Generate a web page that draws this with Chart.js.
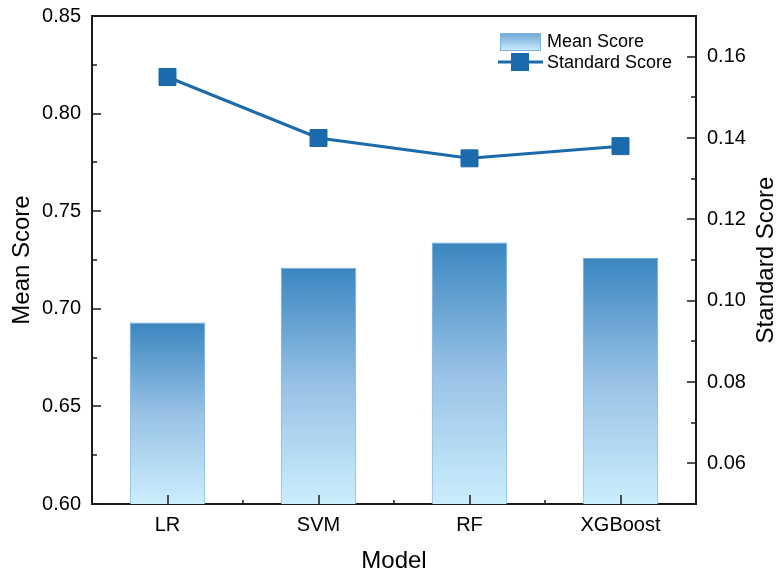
<!DOCTYPE html>
<html lang="en">
<head>
<meta charset="UTF-8">
<title>Mean Score / Standard Score by Model</title>
<script src="https://cdn.jsdelivr.net/npm/chart.js@4.4.1/dist/chart.umd.min.js"></script>
<style>
  html, body { margin: 0; padding: 0; background: #fff; }
  #wrap { width: 782px; height: 577px; }
</style>
</head>
<body>
<div id="wrap"><canvas id="chart" width="782" height="577"></canvas></div>
<script>
// data
const models = ["LR", "SVM", "RF", "XGBoost"];
const meanScore = [0.693, 0.721, 0.734, 0.726];
const standardScore = [0.155, 0.140, 0.135, 0.138];

const leftTicks = [0.60, 0.65, 0.70, 0.75, 0.80, 0.85];
const leftMinor = [0.625, 0.675, 0.725, 0.775, 0.825];
const rightTicks = [0.06, 0.08, 0.10, 0.12, 0.14, 0.16];
const rightMinor = [0.07, 0.09, 0.11, 0.13, 0.15];

const FONT = "'Liberation Sans', Arial, sans-serif";
const lineBlue = "#1b6aab";

function barGradient(ctx) {
  const chart = ctx.chart;
  const area = chart.chartArea;
  if (!area || ctx.raw === undefined) return "#8fbde3";
  const top = chart.scales.y.getPixelForValue(ctx.raw);
  const g = chart.ctx.createLinearGradient(0, top, 0, area.bottom);
  g.addColorStop(0, "#3a86c0");
  g.addColorStop(0.5, "#98c2e6");
  g.addColorStop(1, "#cbeefd");
  return g;
}

// inward ticks, top frame, right title and legend
const decor = {
  id: "decor",
  afterDatasetsDraw(chart) {
    const c = chart.ctx;
    const a = chart.chartArea;
    const y = chart.scales.y, y1 = chart.scales.y1, x = chart.scales.x;
    c.save();
    c.strokeStyle = "#1a1a1a";
    c.lineWidth = 1.5;
    c.beginPath();
    leftTicks.forEach(v => { const p = Math.round(y.getPixelForValue(v)); c.moveTo(a.left, p); c.lineTo(a.left + 9, p); });
    leftMinor.forEach(v => { const p = Math.round(y.getPixelForValue(v)); c.moveTo(a.left, p); c.lineTo(a.left + 5, p); });
    rightTicks.forEach(v => { const p = Math.round(y1.getPixelForValue(v)); c.moveTo(a.right, p); c.lineTo(a.right - 9, p); });
    rightMinor.forEach(v => { const p = Math.round(y1.getPixelForValue(v)); c.moveTo(a.right, p); c.lineTo(a.right - 5, p); });
    models.forEach((m, i) => {
      const p = Math.round(x.getPixelForValue(i));
      c.moveTo(p, a.bottom); c.lineTo(p, a.bottom - 9);
      if (i > 0) {
        const q = Math.round((x.getPixelForValue(i - 1) + p) / 2);
        c.moveTo(q, a.bottom); c.lineTo(q, a.bottom - 4);
      }
    });
    c.stroke();
    // top frame line
    c.lineWidth = 2;
    c.beginPath();
    c.moveTo(a.left - 1, a.top); c.lineTo(a.right + 1, a.top);
    c.stroke();

    // right axis title, reading bottom to top
    c.fillStyle = "#000";
    c.font = "24px " + FONT;
    c.textAlign = "center";
    c.textBaseline = "middle";
    c.translate(766, (a.top + a.bottom) / 2);
    c.rotate(-Math.PI / 2);
    c.fillText("Standard Score", 0, 0);
    c.setTransform(1, 0, 0, 1, 0, 0);

    // legend
    const lx = 500;
    const g = c.createLinearGradient(0, 33, 0, 51);
    g.addColorStop(0, "#6fa6d6");
    g.addColorStop(1, "#cbeefd");
    c.fillStyle = g;
    c.fillRect(lx, 33, 41, 18);
    c.strokeStyle = "#7fb2dd";
    c.lineWidth = 1;
    c.strokeRect(lx + 0.5, 33.5, 40, 17);
    c.strokeStyle = lineBlue;
    c.lineWidth = 3;
    c.beginPath();
    c.moveTo(lx - 2, 62); c.lineTo(lx + 43, 62);
    c.stroke();
    c.fillStyle = lineBlue;
    c.fillRect(lx + 11, 53, 18, 18);
    c.fillStyle = "#000";
    c.font = "18px " + FONT;
    c.textAlign = "left";
    c.fillText("Mean Score", lx + 47, 42);
    c.fillText("Standard Score", lx + 47, 63);
    c.restore();
  }
};

new Chart(document.getElementById("chart"), {
  data: {
    labels: models,
    datasets: [
      {
        type: "line",
        label: "Standard Score",
        data: standardScore,
        yAxisID: "y1",
        borderColor: lineBlue,
        backgroundColor: lineBlue,
        borderWidth: 3,
        pointStyle: "rect",
        pointRadius: 12,
        pointBorderWidth: 1,
        tension: 0,
        order: 0
      },
      {
        type: "bar",
        label: "Mean Score",
        data: meanScore,
        yAxisID: "y",
        backgroundColor: barGradient,
        borderColor: "#6ea8d8",
        borderWidth: 1,
        barPercentage: 0.5,
        categoryPercentage: 1,
        order: 1
      }
    ]
  },
  options: {
    responsive: false,
    animation: false,
    layout: { padding: { top: 16, left: 0, right: 0, bottom: 0 } },
    plugins: { legend: { display: false }, tooltip: { enabled: false } },
    scales: {
      x: {
        grid: { display: false, drawTicks: false },
        border: { display: true, color: "#1a1a1a", width: 2 },
        ticks: { color: "#000", font: { family: FONT, size: 20 }, padding: 9 },
        title: { display: true, text: "Model", color: "#000", font: { family: FONT, size: 24 }, padding: { bottom: 1 } },
        afterFit: s => { s.height = 73; s.paddingLeft = 0; s.paddingRight = 0; }
      },
      y: {
        position: "left",
        min: 0.6,
        max: 0.85,
        grid: { display: false, drawTicks: false },
        border: { display: true, color: "#1a1a1a", width: 2 },
        ticks: { color: "#000", font: { family: FONT, size: 20 }, padding: 11, callback: v => Number(v).toFixed(2) },
        afterBuildTicks: s => { s.ticks = leftTicks.map(v => ({ value: v })); },
        title: { display: true, text: "Mean Score", color: "#000", font: { family: FONT, size: 24 }, padding: { top: 8 } },
        afterFit: s => { s.width = 92; s.paddingTop = 0; s.paddingBottom = 0; }
      },
      y1: {
        position: "right",
        min: 0.05,
        max: 0.17,
        grid: { display: false, drawTicks: false },
        border: { display: true, color: "#1a1a1a", width: 2 },
        ticks: { color: "#000", font: { family: FONT, size: 20 }, padding: 11, callback: v => Number(v).toFixed(2) },
        afterBuildTicks: s => { s.ticks = rightTicks.map(v => ({ value: v })); },
        afterFit: s => { s.width = 86; s.paddingTop = 0; s.paddingBottom = 0; }
      }
    }
  },
  plugins: [decor]
});
</script>
</body>
</html>
